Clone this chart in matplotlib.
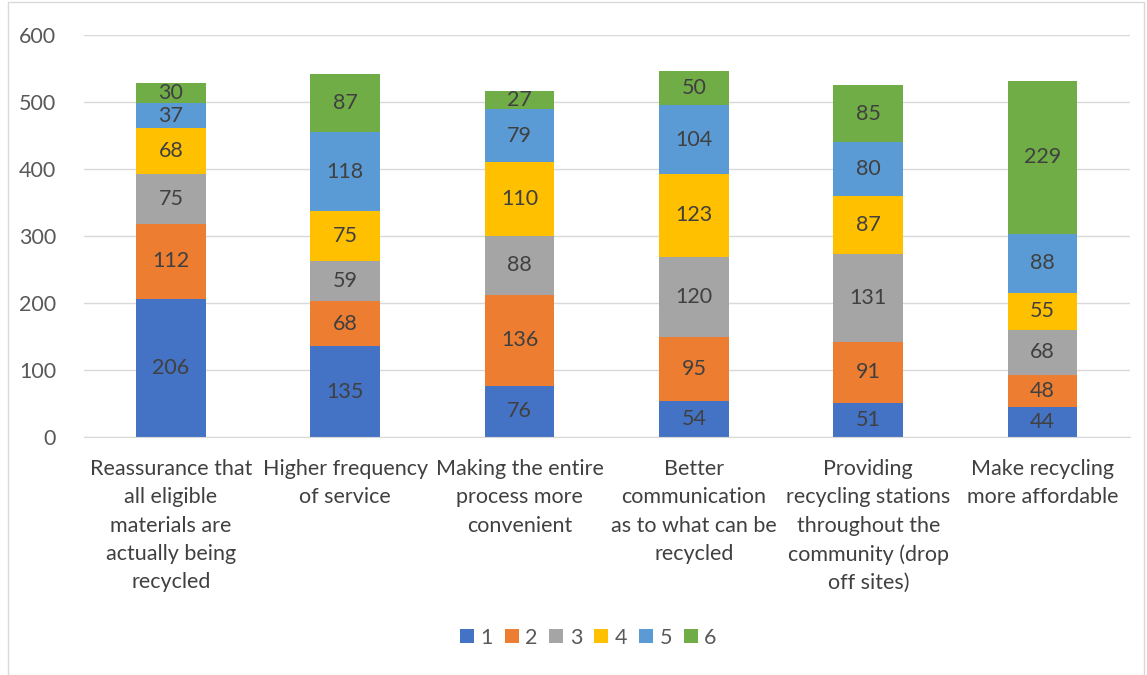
import matplotlib
matplotlib.use("Agg")
import matplotlib.pyplot as plt
from matplotlib.patches import Rectangle
import numpy as np

categories = [
    "Reassurance that\nall eligible\nmaterials are\nactually being\nrecycled",
    "Higher frequency\nof service",
    "Making the entire\nprocess more\nconvenient",
    "Better\ncommunication\nas to what can be\nrecycled",
    "Providing\nrecycling stations\nthroughout the\ncommunity (drop\noff sites)",
    "Make recycling\nmore affordable",
]
series_names = ["1", "2", "3", "4", "5", "6"]
s1 = [206, 135, 76, 54, 51, 44]
s2 = [112, 68, 136, 95, 91, 48]
s3 = [75, 59, 88, 120, 131, 68]
s4 = [68, 75, 110, 123, 87, 55]
s5 = [37, 118, 79, 104, 80, 88]
s6 = [30, 87, 27, 50, 85, 229]
series = [s1, s2, s3, s4, s5, s6]
colors = ["#4472C4", "#ED7D31", "#A5A5A5", "#FFC000", "#5B9BD5", "#70AD47"]
yticks = [0, 100, 200, 300, 400, 500, 600]

plt.rcParams['font.family'] = ['Lato', 'DejaVu Sans']
FS = 15.5

fig = plt.figure(figsize=(11.47, 6.75), dpi=100)
ax = fig.add_axes([0.073, 0.353, 0.912, 0.595])

x = np.arange(len(categories))
bottom = np.zeros(len(categories))
handles = []
for name, vals, c in zip(series_names, series, colors):
    vals = np.array(vals, dtype=float)
    b = ax.bar(x, vals, 0.4, bottom=bottom, color=c, label=name, zorder=3)
    handles.append(b)
    for xi, v, bt in zip(x, vals, bottom):
        ax.text(xi, bt + v / 2, f"{int(v)}", ha="center", va="center",
                fontsize=FS, color="#404040", zorder=4)
    bottom += vals

ax.set_xlim(-0.5, len(categories) - 0.5)
ax.set_ylim(0, 600)
ax.set_yticks(yticks)
ax.set_yticklabels([str(t) for t in yticks], fontsize=FS, color="#595959")
ax.yaxis.grid(True, color="#D9D9D9", linewidth=1, zorder=0)
ax.set_xticks(x)
ax.set_xticklabels(categories, fontsize=FS, color="#404040", linespacing=1.52, va="top")
ax.tick_params(axis="both", length=0)
ax.tick_params(axis="x", pad=16)
ax.tick_params(axis="y", pad=20)
for s in ["top", "right", "left"]:
    ax.spines[s].set_visible(False)
ax.spines["bottom"].set_color("#D9D9D9")
ax.spines["bottom"].set_zorder(3.5)

fig.legend(handles=handles, labels=series_names, loc="center", bbox_to_anchor=(0.513, 0.055),
           ncol=6, frameon=False, fontsize=FS, handlelength=0.65, handleheight=0.65,
           columnspacing=0.55, handletextpad=0.3, labelcolor="#595959")

fig.patches.append(Rectangle((0.007, 0.0), 0.99, 0.997, transform=fig.transFigure,
                             fill=False, edgecolor="#D9D9D9", linewidth=1))

fig.savefig("out.png", dpi=100)
